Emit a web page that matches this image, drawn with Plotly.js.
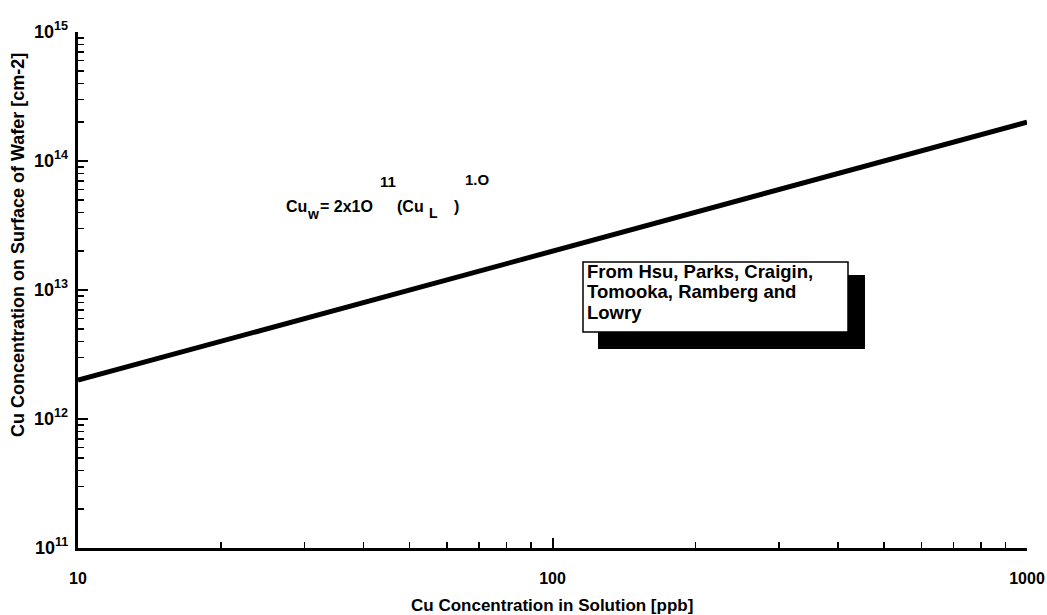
<!DOCTYPE html>
<html>
<head>
<meta charset="utf-8">
<script src="https://cdn.plot.ly/plotly-3.0.1.min.js"></script>
<style>html,body{margin:0;padding:0;background:#fff;}#chart{width:1047px;height:615px;}</style>
</head>
<body>
<div id="chart"></div>
<script>
// Data
const cuSolution = [10, 1000];            // ppb
const cuWafer = [2e12, 2e14];             // cm-2
const xTickVals = [10, 100, 1000];
const xTickText = ['10', '100', '1000'];
const yTickVals = [1e11, 1e12, 1e13, 1e14, 1e15];
const yTickText = ['11', '12', '13', '14', '15'];
const sourceLines = ['From Hsu, Parks, Craigin,', 'Tomooka, Ramberg and', 'Lowry'];

const W = 1047, H = 615;
const M = {l: 78, r: 20, t: 32, b: 67};
const pw = W - M.l - M.r, ph = H - M.t - M.b;
const px = v => (v - M.l) / pw;
const py = v => (H - M.b - v) / ph;

const FONT = 'Liberation Sans, Arial, sans-serif';
const bold = (s) => '<b>' + s + '</b>';

// minor tick positions (2..9 x each decade) – axis decoration only
function minorTicks(d0, d1) {
  const out = [];
  for (let d = d0; d < d1; d++) for (let k = 2; k <= 9; k++) out.push(k * Math.pow(10, d));
  return out;
}

const trace = {
  x: cuSolution, y: cuWafer, type: 'scatter', mode: 'lines',
  line: {color: '#000', width: 5}, showlegend: false, hoverinfo: 'skip'
};

function eqPart(text, xpx, ypx, size) {
  return {xref: 'paper', yref: 'paper', x: px(xpx), y: py(ypx), text: bold(text),
    showarrow: false, xanchor: 'left', yanchor: 'middle',
    font: {family: FONT, size: size, color: '#000'}};
}

const yLabelAnn = yTickVals.map((v, i) => ({
  xref: 'paper', yref: 'y', x: px(70), y: Math.log10(v),
  text: bold('10<sup>' + yTickText[i] + '</sup>'), showarrow: false,
  xanchor: 'right', yanchor: 'middle', yshift: 2,
  font: {family: FONT, size: 18, color: '#000'}
}));

const boxLineY = [271, 291, 312];
const boxAnn = sourceLines.map((t, i) => ({
  xref: 'paper', yref: 'paper', x: px(585), y: py(boxLineY[i]), text: bold(t),
  showarrow: false, xanchor: 'left', yanchor: 'middle', align: 'left',
  font: {family: FONT, size: 18.5, color: '#000'}
}));

const annotations = [
  eqPart('Cu', 284, 206, 16),
  eqPart('w', 305, 214, 14),
  eqPart('= 2x1O', 318, 206, 16),
  eqPart('11', 378, 182, 15),
  eqPart('(Cu', 395, 206, 16),
  eqPart('L', 427, 213, 14),
  eqPart(')', 452, 206, 16),
  eqPart('1.O', 463, 180, 15),
  {xref: 'paper', yref: 'paper', x: px(18), y: py(245), text: bold('Cu Concentration on Surface of Wafer [cm-2]'),
   textangle: -90, showarrow: false, xanchor: 'center', yanchor: 'middle',
   font: {family: FONT, size: 18, color: '#000'}},
  {xref: 'paper', yref: 'paper', x: px(552), y: py(605), text: bold('Cu Concentration in Solution [ppb]'),
   showarrow: false, xanchor: 'center', yanchor: 'middle',
   font: {family: FONT, size: 17, color: '#000'}}
].concat(boxAnn, yLabelAnn);

const shapes = [
  {type: 'rect', xref: 'paper', yref: 'paper', x0: px(598), x1: px(865), y0: py(349), y1: py(275),
   fillcolor: '#000', line: {width: 0}, layer: 'above'},
  {type: 'rect', xref: 'paper', yref: 'paper', x0: px(583), x1: px(848), y0: py(332), y1: py(262),
   fillcolor: '#fff', line: {color: '#000', width: 1.5}, layer: 'above'}
];

const axisCommon = {
  type: 'log', showgrid: false, zeroline: false, showline: true,
  linecolor: '#000', linewidth: 3, ticks: 'inside', ticklen: 10, tickwidth: 2, tickcolor: '#000',
  tickfont: {family: FONT, size: 16, color: '#000', weight: 'bold'},
  mirror: false
};

const layout = {
  width: W, height: H, margin: M,
  paper_bgcolor: '#fff', plot_bgcolor: '#fff',
  font: {family: FONT, color: '#000'},
  showlegend: false,
  xaxis: Object.assign({}, axisCommon, {
    range: [1, 3], tickmode: 'array', tickvals: xTickVals, ticktext: xTickText, ticklabelstandoff: 14,
    minor: {tickmode: 'array', tickvals: minorTicks(1, 3), ticks: 'inside', ticklen: 6, tickwidth: 1.5, tickcolor: '#000', showgrid: false}
  }),
  yaxis: Object.assign({}, axisCommon, {
    range: [11, 15], tickmode: 'array', tickvals: yTickVals, showticklabels: false,
    minor: {tickmode: 'array', tickvals: minorTicks(11, 15), ticks: 'inside', ticklen: 6, tickwidth: 1.5, tickcolor: '#000', showgrid: false}
  }),
  annotations: annotations,
  shapes: shapes
};

Plotly.newPlot('chart', [trace], layout, {staticPlot: true, displayModeBar: false});
</script>
</body>
</html>
